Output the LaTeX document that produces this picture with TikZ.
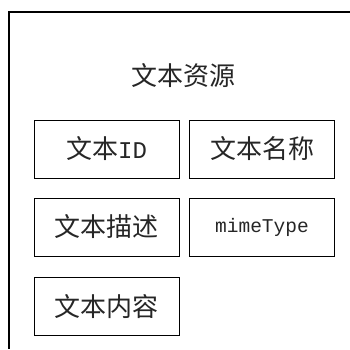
\documentclass[tikz,border=0pt]{standalone}
\usepackage{fontspec}
\newfontfamily\cjk{Noto Sans CJK SC}
\newfontfamily\monofnt{Liberation Mono}
\usetikzlibrary{positioning}

\begin{document}
\begin{tikzpicture}[x=1pt,y=-1pt,
    field/.style={draw=black, line width=0.9pt, minimum width=145pt, minimum height=58pt, inner sep=0pt, font=\cjk\fontsize{26}{26}\selectfont},
    every node/.append style={text=black!85}]
    \useasboundingbox (0,0) rectangle (350,349);
    %外框
    \draw [black, line width=1.2pt] (350,12) -- (9,12) -- (9,349);
    %标题
    \node [font=\cjk\fontsize{26}{26}\selectfont] (title) at (183.5,76) {文本资源};
    %字段
    \node [field] (tid) at (106.5,149) {文本{\monofnt\fontsize{24}{24}\selectfont ID}};
    \node [field] (tname) at (262,149) {文本名称};
    \node [field] (tdesc) at (106.5,227) {文本描述};
    \node [field, font=\monofnt\fontsize{19.5}{19.5}\selectfont] (tmime) at (262,227) {mimeType};
    \node [field] (tcont) at (106.5,306.5) {文本内容};
\end{tikzpicture}
\end{document}
